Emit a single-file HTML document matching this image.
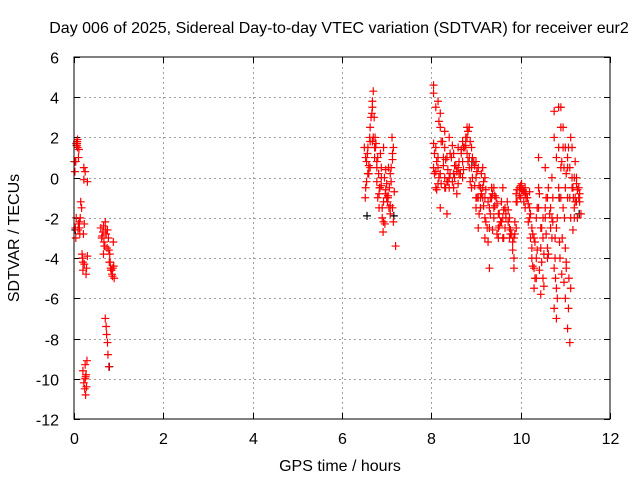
<!DOCTYPE html>
<html><head><meta charset="utf-8"><style>
body{margin:0;background:#fff;}
svg text{font-family:"Liberation Sans",sans-serif;font-size:16px;fill:#000;}
</style></head><body>
<svg id="chart" width="640" height="480" viewBox="0 0 640 480" xmlns="http://www.w3.org/2000/svg">
<text x="339" y="33" text-anchor="middle">Day 006 of 2025, Sidereal Day-to-day VTEC variation (SDTVAR) for receiver eur2</text>
<text x="340" y="471" text-anchor="middle">GPS time / hours</text>
<text x="0" y="0" text-anchor="middle" transform="translate(19,238) rotate(-90)">SDTVAR / TECUs</text>
<g id="grid"></g>
<g id="ticks"></g>
<g id="black"></g>
<g id="red"></g>
<rect x="74" y="57" width="536" height="362" fill="none" stroke="#000" stroke-width="1"/>
</svg>
<script>
const xTicks=[0,2,4,6,8,10,12];
const yTicks=[6,4,2,0,-2,-4,-6,-8,-10,-12];
const redT=[0.02,0.03,0.05,0.06,0.07,0.08,0.1,0.12,0.13,0.02,0.04,0.05,0.07,0.09,0.1,0.12,0.15,0.17,0.18,0.2,0.2,0.22,0.22,0.25,0.27,0.28,0.3,0.3,0.25,0.27,0.2,0.22,0.24,0.26,0.28,0.25,0.23,0.21,0.29,
0.6,0.62,0.65,0.67,0.7,0.72,0.74,0.75,0.77,0.8,0.82,0.83,0.85,0.87,0.9,0.88,0.7,0.72,0.73,0.75,0.76,0.78,0.68,0.66,0.79,0.84,
6.5,6.52,6.55,6.57,6.6,6.62,6.65,6.67,6.68,6.7,6.72,6.74,6.75,6.78,6.8,6.82,6.84,6.86,6.88,6.9,6.92,6.95,6.97,7.0,7.02,7.04,7.06,7.08,7.1,7.12,7.15,7.17,7.2,6.55,6.6,6.63,6.7,6.8,6.85,6.9,6.93,7.0,7.05,7.1,7.15,6.58,6.76,6.96,7.13,
8.05,8.05,8.05,8.05,8.1,8.1,8.1,8.1,8.15,8.15,8.15,8.15,8.2,8.2,8.2,8.2,8.3,8.3,8.3,8.3,8.35,8.35,8.35,8.4,8.4,8.4,8.5,8.5,8.5,8.6,8.6,8.6,8.7,8.7,8.7,8.8,8.8,8.8,8.85,8.85,8.85,8.9,8.9,8.9,9.0,9.0,9.0,9.0,9.05,9.05,9.05,9.1,9.1,9.1,9.15,9.15,9.15,9.2,9.2,9.2,9.2,9.3,9.3,9.3,9.35,9.35,9.35,9.4,9.4,9.4,9.5,9.5,9.5,9.6,9.6,9.6,9.65,9.65,9.75,9.75,9.75,9.85,9.85,9.85,9.9,9.9,9.9,10.0,10.0,10.0,10.1,10.1,10.1,10.2,10.2,10.2,10.25,10.25,10.25,10.3,10.3,10.3,10.35,10.35,10.35,10.4,10.4,10.4,10.45,10.45,10.45,10.5,10.5,10.5,10.55,10.55,10.55,10.6,10.6,10.6,10.7,10.7,10.7,10.75,10.75,10.75,10.75,10.8,10.8,10.8,10.8,10.85,10.85,10.85,10.9,10.9,10.9,10.9,10.95,10.95,10.95,11.0,11.0,11.0,11.0,11.05,11.05,11.05,11.05,11.1,11.1,11.1,11.15,11.15,11.15,11.2,11.2,11.2,11.25,11.25,11.25,
8.25,8.45,8.55,8.65,8.75,8.95,9.25,9.45,9.55,9.7,9.8,10.05,10.15,10.65,10.78,10.88,10.93,10.98,11.02,11.08,11.12,11.18,11.22,11.3,11.3,11.35,
8.07,8.12,8.17,8.22,8.27,8.32,8.37,8.42,8.47,8.52,8.57,8.62,8.67,8.72,8.77,8.82,8.87,8.92,8.97,9.02,9.07,9.12,9.17,9.22,9.27,9.32,9.37,9.42,9.47,9.52,9.57,9.62,9.67,9.72,9.77,9.82,9.87,9.92,9.97,10.02,10.07,10.12,10.17,10.22,10.27,10.32,10.37,10.42,10.47,10.52,10.57,10.62,10.67,10.72,10.77,10.82,10.87,10.92,10.97,11.02,11.07,11.12,11.17,11.22,11.27,11.32,
8.07,8.12,8.17,8.22,8.27,8.32,8.37,8.42,8.47,8.52,8.57,8.62,8.67,8.72,8.77,8.82,8.87,8.92,8.97,9.02,9.07,9.12,9.17,9.22,9.27,9.32,9.37,9.42,9.47,9.52,9.57,9.62,9.67,9.72,9.77,9.82,9.87,9.92,9.97,10.02,10.07,10.12,10.17,10.22,10.27,10.32,10.37,10.42,10.47,10.52,10.57,10.62,10.67,10.72,10.77,10.82,10.87,10.92,10.97,11.02,11.07,11.12,11.17,11.22,11.27,11.32,
6.53,6.58,6.63,6.68,6.73,6.78,6.83,6.88,6.93,6.98,7.03,7.08,7.13,6.53,6.58,6.63,6.68,6.73,6.78,6.83,6.88,6.93,6.98,7.03,7.08,7.13,
0.04,0.06,0.08,0.11,0.14,0.19,0.23,0.26,0.63,0.66,0.69,0.71,0.78,0.81,0.86,0.89];
const redV=[0.8,-2.5,1.7,1.6,1.8,1.5,1.0,-2.2,-2.8,0.3,-3.0,-2.0,1.7,-2.6,-2.3,-2.5,-1.2,-1.5,-3.8,-4.2,-4.6,0.5,-0.1,0.3,-4.8,-4.5,-0.2,-3.9,-9.3,-9.8,-9.6,-10.2,-10.5,-10.8,-10.4,-10.0,-2.3,-2.8,-9.1,
-2.5,-3.0,-2.7,-3.2,-2.2,-2.8,-3.5,-2.6,-3.0,-3.8,-4.5,-4.6,-4.8,-4.5,-5.0,-3.2,-7.0,-7.4,-7.8,-8.2,-8.8,-9.4,-3.4,-3.8,-4.2,-4.6,
1.5,-1.0,0.8,1.2,0.2,2.0,3.0,3.2,3.5,4.3,3.0,2.0,1.5,0.8,-1.0,0.2,-0.5,1.2,-0.4,-2.0,-2.7,0.0,-0.8,-0.3,-1.2,0.5,-0.5,-1.8,0.5,2.0,1.5,-0.7,-3.4,-0.2,0.6,1.8,2.0,1.0,-0.5,-1.5,1.5,-1.0,-1.5,-0.2,-2.2,0.2,1.7,-2.3,-1.5,
4.6,4.2,1.7,0.5,1.5,0.3,-0.5,3.5,3.8,0.5,-0.3,1.0,3.2,2.5,0.2,-1.5,2.3,1.5,-0.5,0.0,1.0,-0.2,-1.8,2.0,0.0,-0.5,1.2,0.2,-0.5,0.5,-0.3,1.5,1.8,0.8,0.0,2.5,2.0,1.2,2.5,1.0,0.5,1.5,0.5,-0.5,0.8,0.0,-1.5,-1.0,0.5,-1.0,-2.5,-0.5,-1.5,-1.0,-1.0,-0.5,0.5,0.0,-1.0,-2.0,-3.0,-1.5,-2.5,-4.5,-0.5,-0.5,-1.0,-0.5,-1.5,-2.0,-1.8,-2.5,-3.0,-2.0,-3.0,-0.5,-1.5,-2.5,-2.0,-2.5,-3.0,-3.0,-4.0,-4.5,-0.8,-1.2,-2.5,-0.4,-0.5,-1.0,-0.5,-0.8,-1.5,-1.5,-2.0,-0.7,-2.5,-3.5,-4.0,-3.0,-4.5,-5.5,-2.0,-4.0,-5.0,-0.5,1.0,-1.5,-2.5,-3.5,-5.8,-3.0,-2.0,-5.0,0.5,-2.0,-1.5,-1.0,-3.5,-4.0,0.0,-2.0,-3.0,3.3,2.0,-4.5,-6.5,1.0,-2.5,-5.5,-7.0,3.5,1.5,-0.5,3.5,2.5,0.5,-1.0,2.5,1.5,-1.5,1.5,-0.5,-3.5,-6.0,1.0,0.5,-1.0,-7.5,0.5,-1.0,-8.2,1.5,0.0,-0.5,0.0,-1.5,-2.0,-0.3,-1.2,0.0,
1.8,1.0,0.6,0.2,1.5,0.8,-2.5,-1.0,-2.2,-1.2,-2.8,-0.6,-1.0,-1.8,-5.0,-4.0,-3.0,-2.0,-4.5,-5.0,-2.0,-1.0,-1.2,-1.0,-0.5,-1.8,
1.2,0.8,0.0,-0.3,0.6,0.9,0.4,0.2,-0.2,0.0,0.3,0.8,1.2,1.5,2.0,2.3,1.8,1.0,0.6,0.3,-0.4,-0.8,-0.2,-0.6,-1.2,-1.0,-0.8,-0.9,-1.3,-1.8,-2.2,-1.6,-1.8,-2.2,-2.6,-3.2,-2.8,-1.2,-0.5,-0.6,-0.7,-1.0,-1.3,-1.8,-2.8,-3.2,-1.5,-0.8,-2.5,-3.8,-1.0,-0.5,-1.5,-2.2,-3.0,-2.0,-1.0,0.8,0.5,0.2,1.5,2.0,-0.5,0.8,-0.6,-1.2,
0.2,-0.6,2.8,1.8,1.0,-0.5,-0.2,1.2,1.6,0.6,-0.8,0.2,1.4,0.4,1.6,0.8,-0.2,0.0,-0.4,-1.0,-1.8,0.2,-1.4,-2.2,-3.2,-1.8,-2.6,-1.4,-2.8,-2.4,-1.2,-3.0,-2.0,-1.6,-2.8,-3.6,-2.2,-0.6,-0.9,-0.3,-1.2,-0.8,-2.2,-3.0,-4.4,-5.0,-3.6,-4.6,-4.2,-5.4,-2.8,-3.8,-2.5,-1.0,-4.0,-6.0,-3.2,-4.8,-5.2,-4.2,-6.5,-5.5,-2.6,-1.0,-2.0,-0.8,
1.0,1.5,2.5,3.8,1.0,0.5,-0.8,0.0,-1.2,0.4,-1.0,0.2,1.2,-0.5,0.2,0.5,1.8,1.5,-0.2,-1.5,0.5,-2.2,-0.6,-0.9,-1.4,0.9,
0.8,1.6,1.9,1.4,-2.0,-4.0,-4.3,-9.9,-2.9,-2.4,-3.4,-2.6,-3.6,-4.2,-4.9,-4.4];
const blackT=[0.0,0.02,0.78,6.55,7.15,11.3,8.9,10.85];
const blackV=[0.8,-2.6,-9.4,-1.9,-1.9,-1.8,0.8,-1.0];
const NS='http://www.w3.org/2000/svg';
const X0=74,X1=610,Y0=57,Y1=419;
function sx(t){return X0+(t-0)/(12-0)*(X1-X0);}
function sy(v){return Y0+(6-v)/(6-(-12))*(Y1-Y0);}
const grid=document.getElementById('grid'),ticks=document.getElementById('ticks');
function line(g,x1,y1,x2,y2,stroke,dash,name){const l=document.createElementNS(NS,'line');l.setAttribute('x1',x1);l.setAttribute('y1',y1);l.setAttribute('x2',x2);l.setAttribute('y2',y2);l.setAttribute('stroke',stroke);l.setAttribute('stroke-width','1');if(dash)l.setAttribute('stroke-dasharray',dash);


g.appendChild(l);}
function label(x,y,s,anchor,name){const t=document.createElementNS(NS,'text');t.setAttribute('x',x);t.setAttribute('y',y);t.setAttribute('text-anchor',anchor);t.textContent=s;


ticks.appendChild(t);}
xTicks.forEach(v=>{const x=Math.round(sx(v))+0.5;if(v>0&&v<12)line(grid,x,Y0,x,Y1,'#a0a0a0','2,3','x-gridline');line(ticks,x,Y1,x,Y1-6,'#000','','x-tick');line(ticks,x,Y0,x,Y0+6,'#000','','x-tick');label(x,Y1+25,String(v),'middle','x-tick-label');});
yTicks.forEach(v=>{const y=Math.round(sy(v))+0.5;if(v<6&&v>-12)line(grid,X0,y,X1,y,'#a0a0a0','2,3','y-gridline');line(ticks,X0,y,X0+6,y,'#000','','y-tick');line(ticks,X1,y,X1-6,y,'#000','','y-tick');label(X0-15,y+6,String(v),'end','y-tick-label');});
function plus(g,t,v,color,name){const x=sx(t),y=sy(v);const p=document.createElementNS(NS,'path');p.setAttribute('d','M'+(x-4)+' '+y+'H'+(x+4)+'M'+x+' '+(y-4)+'V'+(y+4));p.setAttribute('stroke',color);p.setAttribute('stroke-width','1.2');


g.appendChild(p);}
const bg=document.getElementById('black'),rg=document.getElementById('red');
blackT.forEach((t,i)=>plus(bg,t+0.01,blackV[i],'#000','black-point'));
redT.forEach((t,i)=>plus(rg,t,redV[i],'#ff0000','red-point'));
</script>
</body></html>
